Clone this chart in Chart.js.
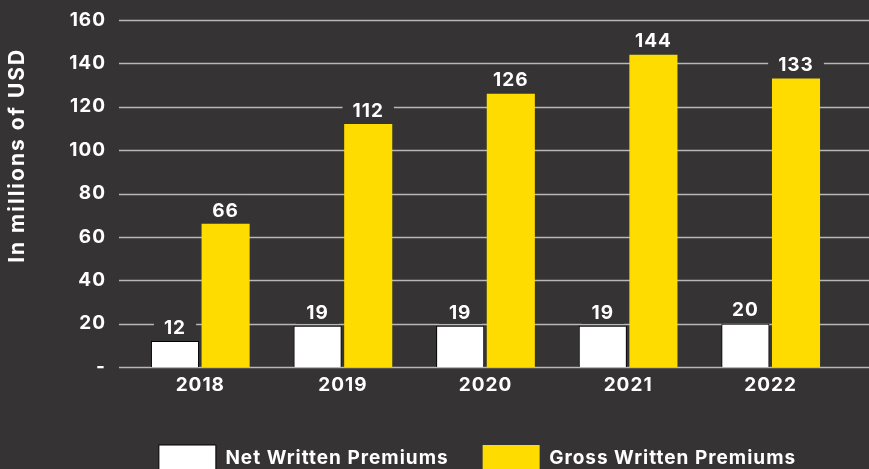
<!DOCTYPE html>
<html>
<head>
<meta charset="utf-8">
<script src="https://cdn.jsdelivr.net/npm/chart.js@4.4.0/dist/chart.umd.min.js"></script>
<style>
  html, body { margin: 0; padding: 0; background: #353334; }
  #wrap { width: 869px; height: 469px; overflow: hidden; }
  #box { position: relative; width: 869px; height: 481px; }
</style>
</head>
<body>
<div id="wrap"><div id="box"><canvas id="premiumsChart"></canvas></div></div>
<script>
var years = ['2018', '2019', '2020', '2021', '2022'];
var netPremiums = [12, 19, 19, 19, 20];
var grossPremiums = [66, 112, 126, 144, 133];
var axisMax = 160;
var axisStep = 20;

var bgColor = '#353334';
var fontFamily = 'Inter, "Liberation Sans", Arial, sans-serif';

// a little tracking on all chart text
const spacing = {
	id: 'spacing',
	beforeLayout(chart) { chart.ctx.letterSpacing = '1px'; },
	beforeDraw(chart) { chart.ctx.letterSpacing = '1px'; }
};

// nudge the legend a bit left of the plot centre
const legendShift = {
	id: 'legendShift',
	afterLayout(chart) {
		chart.legend.left -= 8;
		chart.legend.right -= 8;
	}
};

// horizontal grid lines run past the plot to the right edge
const gridLines = {
	id: 'gridLines',
	beforeDatasetsDraw(chart) {
		let ctx = chart.ctx;
		let y = chart.scales.y;
		ctx.save();
		ctx.strokeStyle = '#b8b8b8';
		ctx.lineWidth = 1.5;
		for (let t of y.ticks) {
			let py = Math.round(y.getPixelForValue(t.value)) + 0.5;
			ctx.beginPath();
			ctx.moveTo(chart.chartArea.left - 10, py);
			ctx.lineTo(chart.width, py);
			ctx.stroke();
		}
		ctx.restore();
	}
};

// value above every bar, on a patch of background colour
const barLabels = {
	id: 'barLabels',
	afterDatasetsDraw(chart) {
		let ctx = chart.ctx;
		ctx.save();
		ctx.font = 'bold 19px ' + fontFamily;
		ctx.textAlign = 'center';
		ctx.textBaseline = 'middle';
		chart.data.datasets.forEach(function(ds, i) {
			let meta = chart.getDatasetMeta(i);
			meta.data.forEach(function(bar, j) {
				let txt = String(ds.data[j]);
				let w = ctx.measureText(txt).width + 20;
				let cy = bar.y - 13;
				ctx.fillStyle = bgColor;
				ctx.fillRect(bar.x - w / 2, cy - 11, w, 22);
				ctx.fillStyle = '#ffffff';
				ctx.fillText(txt, bar.x, cy);
			});
		});
		ctx.restore();
	}
};

const axisTitle = {
	id: 'axisTitle',
	afterDraw(chart) {
		let ctx = chart.ctx;
		let a = chart.chartArea;
		ctx.save();
		ctx.translate(18, a.top + (a.bottom - a.top) * 0.39);
		ctx.rotate(-Math.PI / 2);
		ctx.font = 'bold 21px ' + fontFamily;
		ctx.letterSpacing = '2px';
		ctx.fillStyle = '#ffffff';
		ctx.textAlign = 'center';
		ctx.textBaseline = 'middle';
		ctx.fillText('In millions of USD', 0, 0);
		ctx.restore();
	}
};

const data = {
	labels: years,
	datasets: [
		{
			label: 'Net Written Premiums',
			data: netPremiums,
			backgroundColor: '#ffffff',
			borderColor: '#000000',
			borderWidth: 1
		},
		{
			label: 'Gross Written Premiums',
			data: grossPremiums,
			backgroundColor: '#ffdc00',
			borderWidth: 0
		}
	]
};

const config = {
	type: 'bar',
	data: data,
	options: {
		responsive: true,
		maintainAspectRatio: false,
		animation: false,
		barPercentage: 0.95,
		categoryPercentage: 0.71,
		layout: {
			padding: { top: 20, right: 27, left: 0, bottom: 0 }
		},
		plugins: {
			legend: {
				position: 'bottom',
				fullSize: false,
				labels: {
					color: '#ffffff',
					boxWidth: 57,
					boxHeight: 26,
					padding: 34,
					font: { family: fontFamily, size: 19, weight: 'bold' }
				}
			},
			tooltip: { enabled: false }
		},
		scales: {
			x: {
				grid: { display: false, drawTicks: false },
				border: { display: false },
				ticks: {
					color: '#ffffff',
					padding: 7,
					font: { family: fontFamily, size: 19, weight: 'bold' }
				},
				afterFit: function(scale) { scale.height = 44; }
			},
			y: {
				min: 0,
				max: axisMax,
				grid: { display: false, drawTicks: false },
				border: { display: false },
				ticks: {
					stepSize: axisStep,
					color: '#ffffff',
					padding: 23,
					font: { family: fontFamily, size: 19, weight: 'bold' },
					callback: function(v) { return v === 0 ? '-' : v; }
				},
				afterFit: function(scale) {
					scale.width = 129;
					scale.paddingTop = 0;
					scale.paddingBottom = 0;
				}
			}
		}
	},
	plugins: [spacing, legendShift, gridLines, barLabels, axisTitle]
};

new Chart(document.getElementById('premiumsChart'), config);
</script>
</body>
</html>
